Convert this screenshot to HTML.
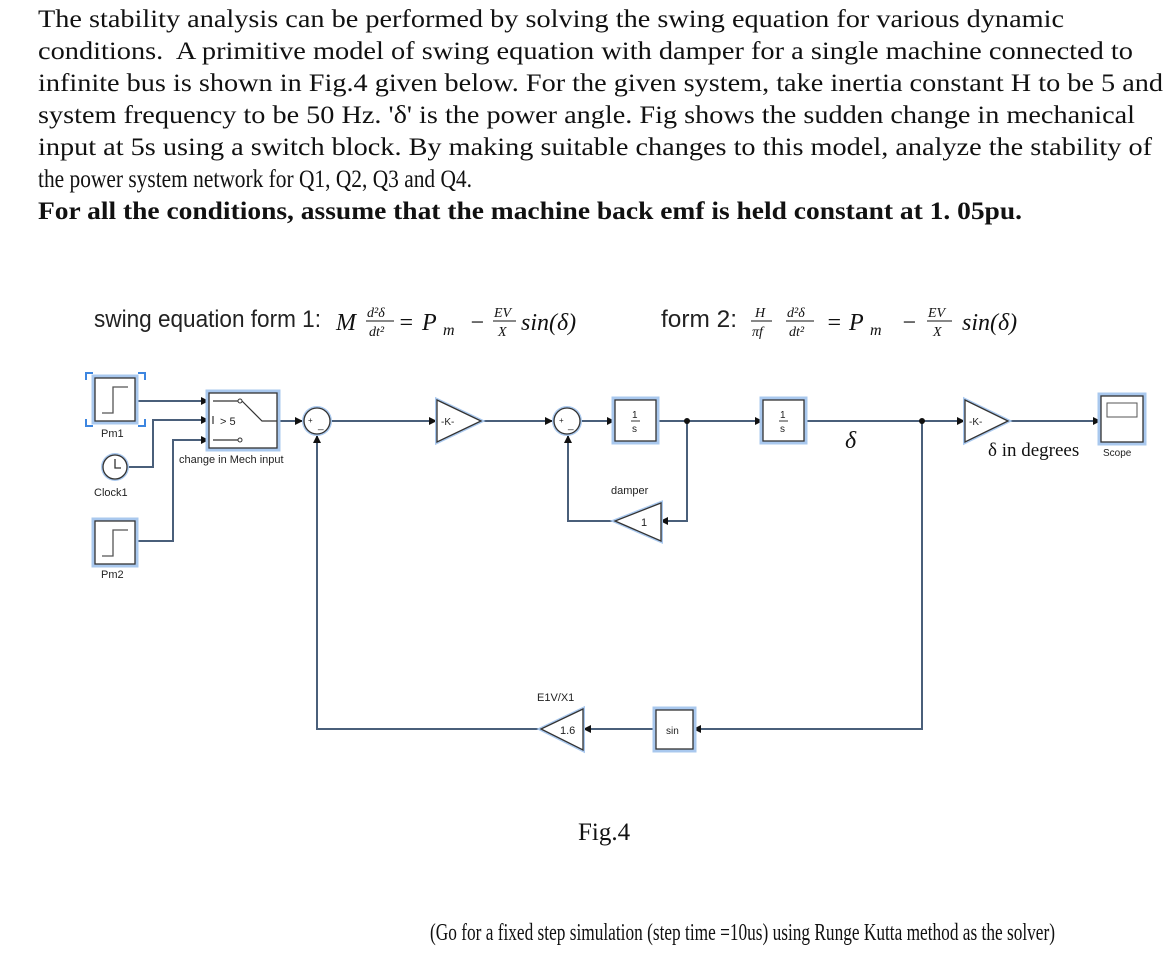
<!DOCTYPE html>
<html><head><meta charset="utf-8"><style>
html,body{margin:0;padding:0;background:#fff;width:1170px;height:977px;overflow:hidden}
svg{display:block}
.t{font-family:"Liberation Serif",serif;font-size:25px;fill:#111}
.s{font-family:"Liberation Sans",sans-serif;fill:#222}
.m{font-family:"Liberation Serif",serif;font-style:italic;fill:#111}
.ln{stroke:#4a5f7a;stroke-width:2;fill:none}
.bk{fill:#fff;stroke:#333;stroke-width:1.3}
.gl{fill:none;stroke:#a9c8ee;stroke-width:5}
</style></head><body>
<svg width="1170" height="977" viewBox="0 0 1170 977">
<defs><marker id="a" markerWidth="8" markerHeight="8" refX="7" refY="4" orient="auto" markerUnits="userSpaceOnUse"><path d="M0,0 L8,4 L0,8z" fill="#111"/></marker></defs>
<text class="t" x="38" y="27" textLength="1026" lengthAdjust="spacingAndGlyphs">The stability analysis can be performed by solving the swing equation for various dynamic</text>
<text class="t" x="38" y="59" textLength="1095" lengthAdjust="spacingAndGlyphs">conditions.&#160; A primitive model of swing equation with damper for a single machine connected to</text>
<text class="t" x="38" y="91" textLength="1125" lengthAdjust="spacingAndGlyphs">infinite bus is shown in Fig.4 given below. For the given system, take inertia constant H to be 5 and</text>
<text class="t" x="38" y="123" textLength="1097" lengthAdjust="spacingAndGlyphs">system frequency to be 50 Hz. 'δ' is the power angle. Fig shows the sudden change in mechanical</text>
<text class="t" x="38" y="155" textLength="1114" lengthAdjust="spacingAndGlyphs">input at 5s using a switch block. By making suitable changes to this model, analyze the stability of</text>
<text class="t" x="38" y="187" textLength="434" lengthAdjust="spacingAndGlyphs">the power system network for Q1, Q2, Q3 and Q4.</text>
<text class="t" x="38" y="219" font-weight="bold" textLength="984" lengthAdjust="spacingAndGlyphs">For all the conditions, assume that the machine back emf is held constant at 1. 05pu.</text>

<!-- equations form 1 -->
<text class="s" x="94" y="327" font-size="24" textLength="227" lengthAdjust="spacingAndGlyphs">swing equation form 1:</text>
<text class="m" x="336" y="330" font-size="24">M</text>
<text class="m" x="367" y="317" font-size="14">d²δ</text>
<line x1="366" y1="321" x2="394" y2="321" stroke="#111" stroke-width="1"/>
<text class="m" x="369" y="336" font-size="14">dt²</text>
<text class="m" x="398" y="330" font-size="24" font-style="normal">=</text>
<text class="m" x="422" y="330" font-size="24">P</text>
<text class="m" x="443" y="335" font-size="16">m</text>
<text class="m" x="469" y="330" font-size="24" font-style="normal">−</text>
<text class="m" x="494" y="317" font-size="14">EV</text>
<line x1="493" y1="321" x2="516" y2="321" stroke="#111" stroke-width="1"/>
<text class="m" x="498" y="336" font-size="14">X</text>
<text class="m" x="521" y="330" font-size="24">sin(δ)</text>
<!-- form 2 -->
<text class="s" x="661" y="327" font-size="24" textLength="76" lengthAdjust="spacingAndGlyphs">form 2:</text>
<text class="m" x="755" y="317" font-size="14">H</text>
<line x1="751" y1="321" x2="772" y2="321" stroke="#111" stroke-width="1"/>
<text class="m" x="752" y="336" font-size="14">πf</text>
<text class="m" x="787" y="317" font-size="14">d²δ</text>
<line x1="786" y1="321" x2="814" y2="321" stroke="#111" stroke-width="1"/>
<text class="m" x="789" y="336" font-size="14">dt²</text>
<text class="m" x="826" y="330" font-size="24" font-style="normal">=</text>
<text class="m" x="849" y="330" font-size="24">P</text>
<text class="m" x="870" y="335" font-size="16">m</text>
<text class="m" x="901" y="330" font-size="24" font-style="normal">−</text>
<text class="m" x="928" y="317" font-size="14">EV</text>
<line x1="927" y1="321" x2="952" y2="321" stroke="#111" stroke-width="1"/>
<text class="m" x="933" y="336" font-size="14">X</text>
<text class="m" x="962" y="330" font-size="24">sin(δ)</text>

<!-- connectors -->
<g class="ln">
<path d="M135,401 H208" marker-end="url(#a)"/>
<path d="M128,467 H153 V420 H208" marker-end="url(#a)"/>
<path d="M135,541 H173 V440 H208" marker-end="url(#a)"/>
<path d="M277,421 H302" marker-end="url(#a)"/>
<path d="M331,421 H436" marker-end="url(#a)"/>
<path d="M481,421 H552" marker-end="url(#a)"/>
<path d="M581,421 H614" marker-end="url(#a)"/>
<path d="M656,421 H762" marker-end="url(#a)"/>
<path d="M687,421 V521 H661" marker-end="url(#a)"/>
<path d="M614,521 H568 V436" marker-end="url(#a)"/>
<path d="M804,421 H964" marker-end="url(#a)"/>
<path d="M1008,421 H1100" marker-end="url(#a)"/>
<path d="M922,421 V729 H694" marker-end="url(#a)"/>
<path d="M655,729 H584" marker-end="url(#a)"/>
<path d="M541,729 H317 V436" marker-end="url(#a)"/>
</g>
<circle cx="687" cy="421" r="3" fill="#111"/>
<circle cx="922" cy="421" r="3" fill="#111"/>

<!-- Pm1 -->
<rect class="gl" x="94" y="377" width="42" height="45"/>
<rect class="bk" x="95" y="378" width="40" height="43"/>
<path d="M102,413 H113 V387 H128" stroke="#555" stroke-width="1.3" fill="none"/>
<path d="M86,380 V373 H93 M138,373 H145 V380 M86,419 V426 H93 M138,426 H145 V419" stroke="#3d86e0" stroke-width="2" fill="none"/>
<text class="s" x="101" y="437" font-size="11">Pm1</text>
<!-- clock -->
<circle cx="115" cy="467" r="14" fill="#a9c8ee"/>
<circle cx="115" cy="467" r="12" class="bk"/>
<path d="M115,459 V468 H121" stroke="#333" stroke-width="1.3" fill="none"/>
<text class="s" x="94" y="496" font-size="11">Clock1</text>
<!-- Pm2 -->
<rect class="gl" x="94" y="520" width="42" height="45"/>
<rect class="bk" x="95" y="521" width="40" height="43"/>
<path d="M102,556 H113 V530 H128" stroke="#555" stroke-width="1.3" fill="none"/>
<text class="s" x="101" y="578" font-size="11">Pm2</text>
<!-- switch -->
<rect class="gl" x="208" y="392" width="70" height="57"/>
<rect class="bk" x="209" y="393" width="68" height="55"/>
<path d="M213,401 H238 M213,440 H238 M242,401 L262,421 H277 M213,416 V424" stroke="#333" stroke-width="1.2" fill="none"/>
<circle cx="240" cy="401" r="2" fill="#fff" stroke="#333"/>
<circle cx="240" cy="440" r="2" fill="#fff" stroke="#333"/>
<text class="s" x="220" y="425" font-size="11">&gt; 5</text>
<text class="s" x="179" y="463" font-size="11">change in Mech input</text>
<!-- sum1 -->
<circle cx="317" cy="421" r="15" fill="#a9c8ee"/>
<circle cx="317" cy="421" r="13" class="bk"/>
<text class="s" x="308" y="423" font-size="8">+</text><text class="s" x="318" y="428" font-size="10">_</text>
<!-- gain K -->
<path d="M437,400 L481,421 L437,442z" fill="#fff" stroke="#a9c8ee" stroke-width="4"/>
<path d="M437,400 L481,421 L437,442z" class="bk"/>
<text class="s" x="441" y="425" font-size="10">-K-</text>
<!-- sum2 -->
<circle cx="567" cy="421" r="15" fill="#a9c8ee"/>
<circle cx="567" cy="421" r="13" class="bk"/>
<text class="s" x="559" y="423" font-size="8">+</text><text class="s" x="568" y="428" font-size="10">_</text>
<!-- int1 -->
<rect class="gl" x="614" y="399" width="43" height="43"/>
<rect class="bk" x="615" y="400" width="41" height="41"/>
<text class="s" x="632" y="418" font-size="10">1</text><line x1="631" y1="421" x2="640" y2="421" stroke="#333"/><text class="s" x="632" y="432" font-size="10">s</text>
<!-- damper -->
<text class="s" x="611" y="494" font-size="11">damper</text>
<path d="M661,503 L615,521 L661,541z" fill="#fff" stroke="#a9c8ee" stroke-width="4"/>
<path d="M661,503 L615,521 L661,541z" class="bk"/>
<text class="s" x="641" y="526" font-size="11">1</text>
<!-- int2 -->
<rect class="gl" x="762" y="399" width="43" height="43"/>
<rect class="bk" x="763" y="400" width="41" height="41"/>
<text class="s" x="780" y="418" font-size="10">1</text><line x1="779" y1="421" x2="788" y2="421" stroke="#333"/><text class="s" x="780" y="432" font-size="10">s</text>
<text class="m" x="845" y="448" font-size="24" font-style="normal">δ</text>
<!-- gain K2 -->
<path d="M965,400 L1008,421 L965,442z" fill="#fff" stroke="#a9c8ee" stroke-width="4"/>
<path d="M965,400 L1008,421 L965,442z" class="bk"/>
<text class="s" x="969" y="425" font-size="10">-K-</text>
<text class="t" x="988" y="456" style="font-size:19px">δ in degrees</text>
<!-- scope -->
<rect class="gl" x="1100" y="395" width="44" height="48"/>
<rect class="bk" x="1101" y="396" width="42" height="46"/>
<rect x="1107" y="403" width="30" height="14" fill="#fff" stroke="#555"/>
<text class="s" x="1103" y="456" font-size="10">Scope</text>
<!-- sin -->
<rect class="gl" x="655" y="709" width="39" height="41"/>
<rect class="bk" x="656" y="710" width="37" height="39"/>
<text class="s" x="666" y="734" font-size="10">sin</text>
<!-- 1.6 gain -->
<text class="s" x="537" y="701" font-size="11">E1V/X1</text>
<path d="M583,709 L541,729 L583,750z" fill="#fff" stroke="#a9c8ee" stroke-width="4"/>
<path d="M583,709 L541,729 L583,750z" class="bk"/>
<text class="s" x="560" y="734" font-size="11">1.6</text>

<text class="t" x="578" y="840">Fig.4</text>
<text class="t" x="430" y="940" style="font-size:24px" textLength="625" lengthAdjust="spacingAndGlyphs">(Go for a fixed step simulation (step time =10us) using Runge Kutta method as the solver)</text>
</svg>
</body></html>
